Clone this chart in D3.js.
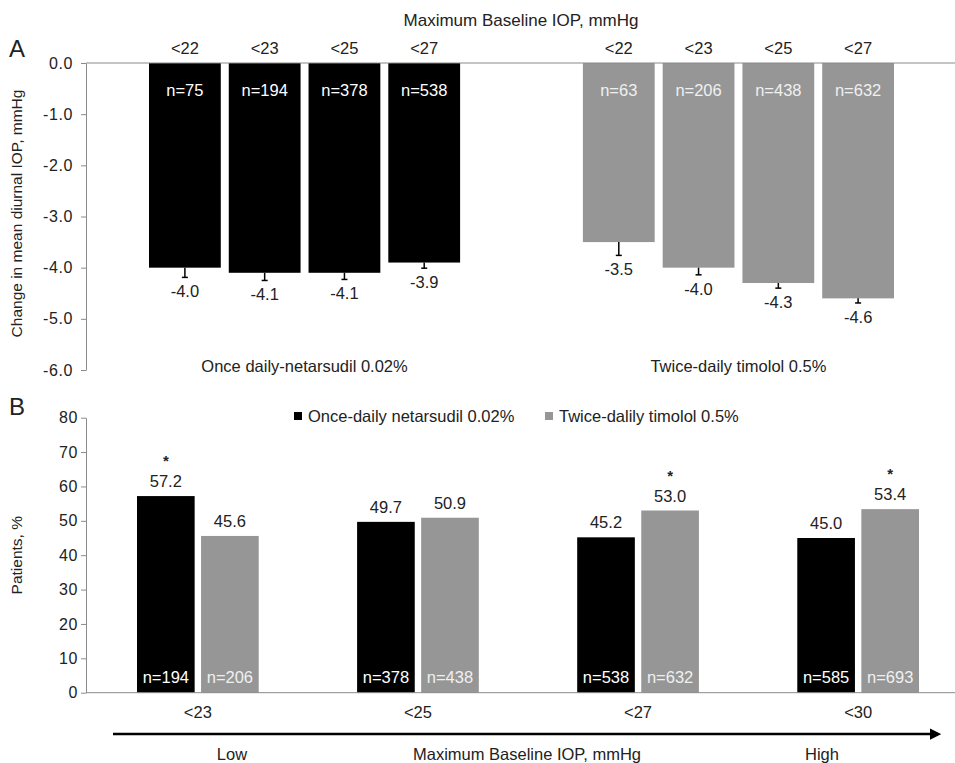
<!DOCTYPE html>
<html>
<head>
<meta charset="utf-8">
<script src="https://cdn.jsdelivr.net/npm/d3@7"></script>
<style>
  body { margin: 0; background: #fff; }
  svg { display: block; font-family: "Liberation Sans", Arial, sans-serif; }
  .axis text { font-size: 16px; fill: #222; }
  .axis path, .axis line { stroke: #8a8a8a; }
  .lbl { font-size: 16.5px; fill: #222; }
</style>
</head>
<body>
<svg id="chart"></svg>
<script>
// Panel A data
const topCats = ["<22", "<23", "<25", "<27"];
const topGroups = ["Once daily-netarsudil 0.02%", "Twice-daily timolol 0.5%"];
const topChange = [[-4.0, -4.1, -4.1, -3.9], [-3.5, -4.0, -4.3, -4.6]];
const topErr = [[0.19, 0.15, 0.13, 0.11], [0.26, 0.14, 0.10, 0.09]];
const topN = [[75, 194, 378, 538], [63, 206, 438, 632]];
const topTicks = [0, -1, -2, -3, -4, -5, -6];

// Panel B data
const botCats = ["<23", "<25", "<27", "<30"];
const botSeries = ["Once-daily netarsudil 0.02%", "Twice-dalily timolol 0.5%"];
const botNetarsudil = [57.2, 49.7, 45.2, 45.0];
const botTimolol = [45.6, 50.9, 53.0, 53.4];
const nNetarsudil = [194, 378, 538, 585];
const nTimolol = [206, 438, 632, 693];
const sigNetarsudil = [true, false, false, false];
const sigTimolol = [false, false, true, true];
const botTicks = [0, 10, 20, 30, 40, 50, 60, 70, 80];

const colors = ["#000000", "#969696"];
const nColors = ["#ffffff", "#f0f0f0"];

const width = 955, height = 763;
const axisX = 86;
const svg = d3.select("#chart").attr("width", width).attr("height", height);

/* ---------- Panel A ---------- */
const yA = d3.scaleLinear().domain([-6, 0]).range([370, 63]);
const xGroupA = d3.scaleBand().domain(topGroups).range([149, 894]).paddingInner(0.283);
const xInnerA = d3.scaleBand().domain(topCats).range([0, xGroupA.bandwidth()]).paddingInner(0.1);

svg.append("text").attr("x", 9).attr("y", 57)
  .style("font-size", "24px").attr("fill", "#222").text("A");

svg.append("text").attr("class", "lbl").attr("x", 521).attr("y", 26)
  .attr("text-anchor", "middle").style("font-size", "17px")
  .text("Maximum  Baseline IOP, mmHg");

// y axis
const yAxA = svg.append("g").attr("class", "axis")
  .attr("transform", `translate(${axisX},0)`)
  .call(d3.axisLeft(yA).tickValues(topTicks).tickFormat(d => d.toFixed(1))
    .tickSize(5).tickPadding(8).tickSizeOuter(0));
yAxA.selectAll("text").style("letter-spacing", "0.6px");

svg.append("text").attr("class", "lbl")
  .attr("transform", `translate(22,${(yA(0) + yA(-6)) / 2 - 3}) rotate(-90)`)
  .attr("text-anchor", "middle").style("font-size", "15.5px")
  .text("Change in mean diurnal IOP, mmHg");

topGroups.forEach((g, gi) => {
  const gx = xGroupA(g);
  const grp = svg.append("g").attr("transform", `translate(${gx},0)`);

  grp.selectAll("rect").data(topChange[gi]).join("rect")
    .attr("x", (d, i) => xInnerA(topCats[i]))
    .attr("y", yA(0))
    .attr("width", xInnerA.bandwidth())
    .attr("height", d => yA(d) - yA(0))
    .attr("fill", colors[gi]);

  // error bars (downward only)
  const cx = i => xInnerA(topCats[i]) + xInnerA.bandwidth() / 2;
  grp.selectAll("line.err").data(topChange[gi]).join("line").attr("class", "err")
    .attr("x1", (d, i) => cx(i)).attr("x2", (d, i) => cx(i))
    .attr("y1", d => yA(d)).attr("y2", (d, i) => yA(d - topErr[gi][i]))
    .attr("stroke", "#000").attr("stroke-width", 1.5);
  grp.selectAll("line.cap").data(topChange[gi]).join("line").attr("class", "cap")
    .attr("x1", (d, i) => cx(i) - 3).attr("x2", (d, i) => cx(i) + 3)
    .attr("y1", (d, i) => yA(d - topErr[gi][i])).attr("y2", (d, i) => yA(d - topErr[gi][i]))
    .attr("stroke", "#000").attr("stroke-width", 1.5);

  // value labels
  grp.selectAll("text.val").data(topChange[gi]).join("text").attr("class", "val lbl")
    .attr("x", (d, i) => cx(i))
    .attr("y", (d, i) => yA(d - topErr[gi][i]) + 20)
    .attr("text-anchor", "middle")
    .text(d => d.toFixed(1));

  // n labels
  grp.selectAll("text.n").data(topN[gi]).join("text").attr("class", "n lbl")
    .attr("x", (d, i) => cx(i)).attr("y", yA(-0.64))
    .attr("text-anchor", "middle").style("fill", nColors[gi])
    .text(d => "n=" + d);

  // category axis on top
  const ax = grp.append("g").attr("class", "axis")
    .attr("transform", `translate(0,${yA(0)})`)
    .call(d3.axisTop(xInnerA).tickSize(0).tickPadding(9));
  ax.select(".domain").remove();
  ax.selectAll("text").style("font-size", "16.5px");

  // group label
  svg.append("text").attr("class", "lbl")
    .attr("x", gx + xGroupA.bandwidth() / 2).attr("y", 372)
    .attr("text-anchor", "middle")
    .text(g);
});

// x axis line of panel A
svg.append("line").attr("x1", axisX).attr("x2", width)
  .attr("y1", yA(0)).attr("y2", yA(0)).attr("stroke", "#8a8a8a");

/* ---------- Panel B ---------- */
const yB = d3.scaleLinear().domain([0, 80]).range([692.7, 417.7]);
const xGroupB = d3.scaleBand().domain(botCats).range([137, 919]).paddingInner(0.447);
const xInnerB = d3.scaleBand().domain(botSeries).range([0, xGroupB.bandwidth()]).paddingInner(0.1);

svg.append("text").attr("x", 9).attr("y", 415)
  .style("font-size", "24px").attr("fill", "#222").text("B");

const yAxB = svg.append("g").attr("class", "axis")
  .attr("transform", `translate(${axisX},0)`)
  .call(d3.axisLeft(yB).tickValues(botTicks).tickSize(5).tickPadding(3).tickSizeOuter(0));
yAxB.selectAll("text").style("letter-spacing", "0.6px");

svg.append("text").attr("class", "lbl")
  .attr("transform", `translate(22,${(yB(0) + yB(80)) / 2}) rotate(-90)`)
  .attr("text-anchor", "middle").style("font-size", "15.5px")
  .text("Patients, %");

const botRows = botCats.map((c, i) => ({
  cat: c,
  vals: [
    { s: botSeries[0], v: botNetarsudil[i], n: nNetarsudil[i], sig: sigNetarsudil[i], k: 0 },
    { s: botSeries[1], v: botTimolol[i], n: nTimolol[i], sig: sigTimolol[i], k: 1 }
  ]
}));

const groupsB = svg.selectAll("g.grpB").data(botRows).join("g").attr("class", "grpB")
  .attr("transform", d => `translate(${xGroupB(d.cat)},0)`);

groupsB.selectAll("rect").data(d => d.vals).join("rect")
  .attr("x", d => xInnerB(d.s)).attr("y", d => yB(d.v))
  .attr("width", xInnerB.bandwidth()).attr("height", d => yB(0) - yB(d.v))
  .attr("fill", d => colors[d.k]);

groupsB.selectAll("text.val").data(d => d.vals).join("text").attr("class", "val lbl")
  .attr("x", d => xInnerB(d.s) + xInnerB.bandwidth() / 2)
  .attr("y", d => yB(d.v) - 9)
  .attr("text-anchor", "middle")
  .text(d => d.v.toFixed(1));

groupsB.selectAll("text.sig").data(d => d.vals.filter(v => v.sig)).join("text").attr("class", "sig lbl")
  .attr("x", d => xInnerB(d.s) + xInnerB.bandwidth() / 2)
  .attr("y", d => yB(d.v) - 30)
  .attr("text-anchor", "middle").style("font-size", "15px").style("font-weight", "bold")
  .text("*");

groupsB.selectAll("text.n").data(d => d.vals).join("text").attr("class", "n lbl")
  .attr("x", d => xInnerB(d.s) + xInnerB.bandwidth() / 2)
  .attr("y", yB(0) - 10)
  .attr("text-anchor", "middle").style("fill", d => nColors[d.k])
  .text(d => "n=" + d.n);

const axB = svg.append("g").attr("class", "axis")
  .attr("transform", `translate(0,${yB(0)})`)
  .call(d3.axisBottom(xGroupB).tickSize(0).tickPadding(14));
axB.select(".domain").remove();
axB.selectAll("text").style("font-size", "16.5px");

svg.append("line").attr("x1", axisX).attr("x2", width)
  .attr("y1", yB(0)).attr("y2", yB(0)).attr("stroke", "#8a8a8a");

// legend
const legend = svg.append("g").attr("transform", "translate(0,416)");
const legendX = [294, 545];
botSeries.forEach((s, i) => {
  legend.append("rect").attr("x", legendX[i]).attr("y", -4).attr("width", 8).attr("height", 8)
    .attr("fill", colors[i]);
  legend.append("text").attr("class", "lbl").attr("x", legendX[i] + 14).attr("y", 6)
    .text(s);
});

// arrow under panel B
svg.append("defs").append("marker")
  .attr("id", "arrow").attr("viewBox", "0 0 10 10")
  .attr("refX", 0).attr("refY", 5)
  .attr("markerWidth", 4.5).attr("markerHeight", 4.5).attr("orient", "auto")
  .append("path").attr("d", "M0,0 L10,5 L0,10 Z").attr("fill", "#000");

svg.append("line").attr("x1", 113).attr("x2", 930).attr("y1", 734).attr("y2", 734)
  .attr("stroke", "#000").attr("stroke-width", 2.5).attr("marker-end", "url(#arrow)");

const arrowLabels = [["Low", 232], ["Maximum Baseline IOP, mmHg", 527], ["High", 822]];
arrowLabels.forEach(([t, x]) => {
  svg.append("text").attr("class", "lbl").attr("x", x).attr("y", 760)
    .attr("text-anchor", "middle").text(t);
});
</script>
</body>
</html>
